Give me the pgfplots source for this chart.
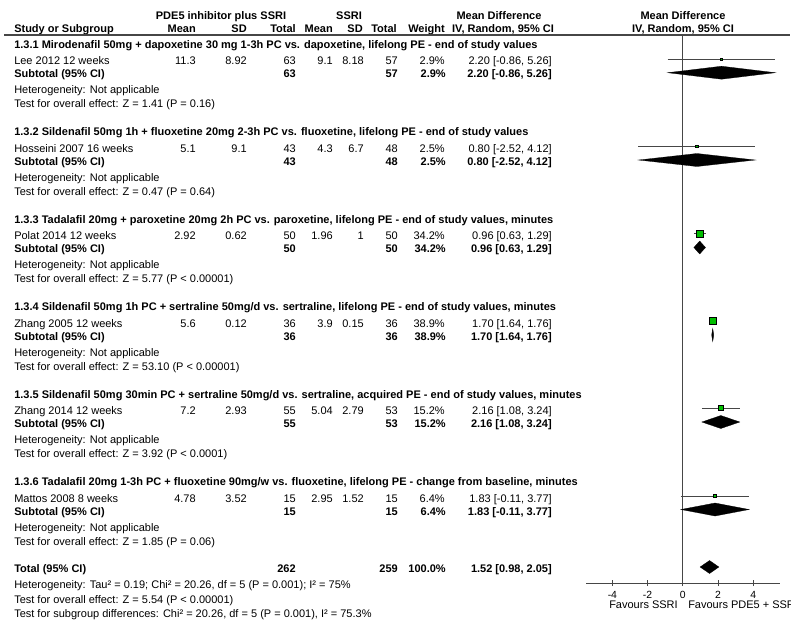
\documentclass[border=0pt]{standalone}
\usepackage{fontspec}
\setmainfont{Liberation Sans}
\usepackage{pgfplots}
\pgfplotsset{compat=1.18}
\definecolor{mkgreen}{RGB}{0,190,0}
\definecolor{lngray}{RGB}{70,70,70}
\newcommand\rowvals[9]{%
 \node[R] at (196,#1) {#2}; \node[R] at (247,#1) {#3}; \node[R] at (296,#1) {#4};
 \node[R] at (333,#1) {#5}; \node[R] at (364,#1) {#6}; \node[R] at (398,#1) {#7};
 \node[R] at (445,#1) {#8}; \node[R] at (552,#1) {#9};}
\newcommand\subvals[5]{%
 \node[L] at (14,#1) {\bfseries Subtotal (95\% CI)};
 \node[R] at (296,#1) {\bfseries #2}; \node[R] at (398,#1) {\bfseries #3};
 \node[R] at (446,#1) {\bfseries #4}; \node[R] at (552,#1) {\bfseries #5};}
\begin{document}
\begin{tikzpicture}[x=0.75pt,y=-0.75pt,font=\fontsize{8.25}{10}\selectfont,
 L/.style={anchor=base west,inner sep=0pt},
 R/.style={anchor=base east,inner sep=0pt},
 C/.style={anchor=base,inner sep=0pt}]
\useasboundingbox (0,0) rectangle (800,626);
% headers
\node[C] at (221,19.3) {\bfseries PDE5 inhibitor plus SSRI};
\node[C] at (349,19.3) {\bfseries SSRI};
\node[C] at (499,19.3) {\bfseries Mean Difference};
\node[C] at (683,19.3) {\bfseries Mean Difference};
\node[L] at (14,32.5) {\bfseries Study or Subgroup};
\node[R] at (196,32.5) {\bfseries Mean};
\node[R] at (247,32.5) {\bfseries SD};
\node[R] at (296,32.5) {\bfseries Total};
\node[R] at (333,32.5) {\bfseries Mean};
\node[R] at (363,32.5) {\bfseries SD};
\node[R] at (397,32.5) {\bfseries Total};
\node[R] at (445,32.5) {\bfseries Weight};
\node[C] at (503,32.5) {\bfseries IV, Random, 95\% CI};
\node[C] at (683,32.5) {\bfseries IV, Random, 95\% CI};
\draw[lngray,line width=0.9pt] (4,35) -- (790,35);
% group 1
\node[L] at (14,48.3) {\bfseries 1.3.1 Mirodenafil 50mg + dapoxetine 30 mg 1-3h PC vs. dapoxetine, lifelong PE - end of study values};
\node[L] at (14,64.7) {Lee 2012 12 weeks};
\rowvals{64.7}{11.3}{8.92}{63}{9.1}{8.18}{57}{2.9\%}{2.20 [-0.86, 5.26]}
\subvals{77.5}{63}{57}{2.9\%}{2.20 [-0.86, 5.26]}
\node[L] at (14,93.8) {Heterogeneity: Not applicable};
\node[L] at (14,107.8) {Test for overall effect: Z = 1.41 (P = 0.16)};
% group 2
\node[L] at (14,135.8) {\bfseries 1.3.2 Sildenafil 50mg 1h + fluoxetine 20mg 2-3h PC vs. fluoxetine, lifelong PE - end of study values};
\node[L] at (14,152.2) {Hosseini 2007 16 weeks};
\rowvals{152.2}{5.1}{9.1}{43}{4.3}{6.7}{48}{2.5\%}{0.80 [-2.52, 4.12]}
\subvals{165}{43}{48}{2.5\%}{0.80 [-2.52, 4.12]}
\node[L] at (14,181.3) {Heterogeneity: Not applicable};
\node[L] at (14,195.3) {Test for overall effect: Z = 0.47 (P = 0.64)};
% group 3
\node[L] at (14,223.3) {\bfseries 1.3.3 Tadalafil 20mg + paroxetine 20mg 2h PC vs. paroxetine, lifelong PE - end of study values, minutes};
\node[L] at (14,239.7) {Polat 2014 12 weeks};
\rowvals{239.7}{2.92}{0.62}{50}{1.96}{1}{50}{34.2\%}{0.96 [0.63, 1.29]}
\subvals{252.5}{50}{50}{34.2\%}{0.96 [0.63, 1.29]}
\node[L] at (14,268.8) {Heterogeneity: Not applicable};
\node[L] at (14,282.8) {Test for overall effect: Z = 5.77 (P < 0.00001)};
% group 4
\node[L] at (14,310.8) {\bfseries 1.3.4 Sildenafil 50mg 1h PC + sertraline 50mg/d vs. sertraline, lifelong PE - end of study values, minutes};
\node[L] at (14,327.2) {Zhang 2005 12 weeks};
\rowvals{327.2}{5.6}{0.12}{36}{3.9}{0.15}{36}{38.9\%}{1.70 [1.64, 1.76]}
\subvals{340}{36}{36}{38.9\%}{1.70 [1.64, 1.76]}
\node[L] at (14,356.3) {Heterogeneity: Not applicable};
\node[L] at (14,370.3) {Test for overall effect: Z = 53.10 (P < 0.00001)};
% group 5
\node[L] at (14,398.3) {\bfseries 1.3.5 Sildenafil 50mg 30min PC + sertraline 50mg/d vs. sertraline, acquired PE - end of study values, minutes};
\node[L] at (14,414.7) {Zhang 2014 12 weeks};
\rowvals{414.7}{7.2}{2.93}{55}{5.04}{2.79}{53}{15.2\%}{2.16 [1.08, 3.24]}
\subvals{427.5}{55}{53}{15.2\%}{2.16 [1.08, 3.24]}
\node[L] at (14,443.8) {Heterogeneity: Not applicable};
\node[L] at (14,457.8) {Test for overall effect: Z = 3.92 (P < 0.0001)};
% group 6
\node[L] at (14,485.8) {\bfseries 1.3.6 Tadalafil 20mg 1-3h PC + fluoxetine 90mg/w vs. fluoxetine, lifelong PE - change from baseline, minutes};
\node[L] at (14,502.2) {Mattos 2008 8 weeks};
\rowvals{502.2}{4.78}{3.52}{15}{2.95}{1.52}{15}{6.4\%}{1.83 [-0.11, 3.77]}
\subvals{515}{15}{15}{6.4\%}{1.83 [-0.11, 3.77]}
\node[L] at (14,531.3) {Heterogeneity: Not applicable};
\node[L] at (14,545.3) {Test for overall effect: Z = 1.85 (P = 0.06)};
% total
\node[L] at (14,572.7) {\bfseries Total (95\% CI)};
\node[R] at (296,572.7) {\bfseries 262};
\node[R] at (398,572.7) {\bfseries 259};
\node[R] at (446,572.7) {\bfseries 100.0\%};
\node[R] at (552,572.7) {\bfseries 1.52 [0.98, 2.05]};
\node[L] at (14,588.3) {Heterogeneity: Tau² = 0.19; Chi² = 20.26, df = 5 (P = 0.001); I² = 75\%};
\node[L] at (14,603) {Test for overall effect: Z = 5.54 (P < 0.00001)};
\node[L] at (14,617) {Test for subgroup differences: Chi² = 20.26, df = 5 (P = 0.001), I² = 75.3\%};
% favours
\node[R] at (678,608) {Favours SSRI};
\begin{scope}
\clip (680,596) rectangle (790,615);
\node[L] at (688,608) {Favours PDE5 + SSRI};
\end{scope}
% forest axis
\coordinate (axsw) at (586,583);
\begin{axis}[at={(axsw)}, anchor=south west, x=13.2pt, y=0.75pt,
  xmin=-5.5, xmax=5.55, ymin=-583, ymax=-35,
  axis x line=bottom, axis y line=none, ytick=\empty,
  axis line style={-,lngray,line width=0.75pt},
  xtick={-4,-2,0,2,4}, xticklabels={-4,-2,0,2,4},
  tick align=center, major tick length=4.5pt,
  tick style={lngray,line width=0.75pt},
  xticklabel style={font=\fontsize{7.8}{9}\selectfont, anchor=base, inner sep=0pt, yshift=-9pt},
  clip=false]
\addplot[lngray,line width=0.75pt] coordinates {(0,-36) (0,-583)};
% CI lines
\addplot[lngray,line width=0.75pt] coordinates {(-0.86,-59) (5.26,-59)};
\addplot[lngray,line width=0.75pt] coordinates {(-2.52,-146) (4.12,-146)};
\addplot[lngray,line width=0.75pt] coordinates {(0.63,-233.5) (1.29,-233.5)};
\addplot[lngray,line width=0.75pt] coordinates {(1.64,-321) (1.76,-321)};
\addplot[lngray,line width=0.75pt] coordinates {(1.08,-408) (3.24,-408)};
\addplot[lngray,line width=0.75pt] coordinates {(-0.11,-496) (3.77,-496)};
% squares
\addplot[only marks,mark=square*,mark options={fill=mkgreen,draw=none},mark size=0.9pt] coordinates {(2.20,-59)};
\addplot[only marks,mark=square*,mark options={fill=mkgreen,draw=none},mark size=0.85pt] coordinates {(0.80,-146)};
\addplot[only marks,mark=square*,mark options={fill=mkgreen,draw=none},mark size=2.56pt] coordinates {(0.96,-233.5)};
\addplot[only marks,mark=square*,mark options={fill=mkgreen,draw=none},mark size=2.74pt] coordinates {(1.70,-321)};
\addplot[only marks,mark=square*,mark options={fill=mkgreen,draw=none},mark size=1.71pt] coordinates {(2.16,-408)};
\addplot[only marks,mark=square*,mark options={fill=mkgreen,draw=none},mark size=1.15pt] coordinates {(1.83,-496)};
% diamonds
\addplot[fill=black,draw=black,line width=0.2pt] coordinates {(-0.86,-72.7) (2.20,-66.2) (5.26,-72.7) (2.20,-79.2)} -- cycle;
\addplot[fill=black,draw=black,line width=0.2pt] coordinates {(-2.52,-160) (0.80,-153.5) (4.12,-160) (0.80,-166.5)} -- cycle;
\addplot[fill=black,draw=black,line width=0.2pt] coordinates {(0.63,-247.5) (0.96,-241) (1.29,-247.5) (0.96,-254)} -- cycle;
\addplot[fill=black,draw=black,line width=0.2pt] coordinates {(1.64,-335) (1.70,-328.5) (1.76,-335) (1.70,-341.5)} -- cycle;
\addplot[fill=black,draw=black,line width=0.2pt] coordinates {(1.08,-422) (2.16,-415.5) (3.24,-422) (2.16,-428.5)} -- cycle;
\addplot[fill=black,draw=black,line width=0.2pt] coordinates {(-0.11,-509.5) (1.83,-503) (3.77,-509.5) (1.83,-516)} -- cycle;
\addplot[fill=black,draw=black,line width=0.2pt] coordinates {(0.98,-567) (1.52,-560.5) (2.05,-567) (1.52,-573.5)} -- cycle;
\end{axis}
\end{tikzpicture}
\end{document}
